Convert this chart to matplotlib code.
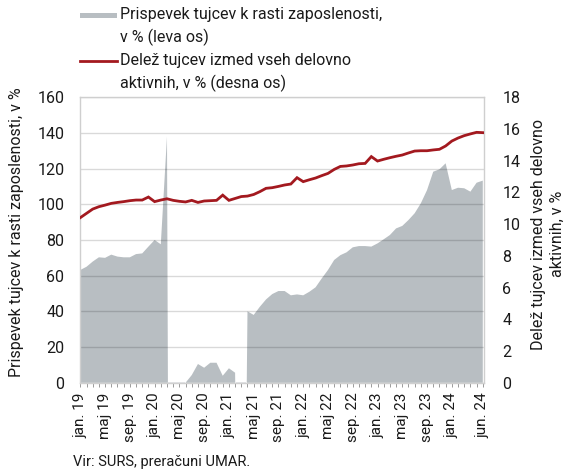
import matplotlib
matplotlib.use("Agg")
import matplotlib.pyplot as plt
from matplotlib.patches import Rectangle
from matplotlib.lines import Line2D
import numpy as np

AREA_COLOR = "#b8bec2"
LINE_COLOR = "#a3191f"
FRAME_COLOR = "#cfcfcf"
TEXT_COLOR = "#1a1a1a"

plt.rcParams.update({
    "font.family": ["Roboto", "DejaVu Sans"],
    "font.size": 11,
    "text.color": TEXT_COLOR,
    "xtick.color": TEXT_COLOR,
    "ytick.color": TEXT_COLOR,
})

# monthly, jan 2019 .. jun 2024
months = np.arange(66)

# contribution of foreigners to employment growth, % (left axis)
# (the deep negatives of the covid months fall below the axis)
contribution = [
    63.2, 65.0, 67.9, 70.3, 70.0, 71.8, 70.7, 70.3, 70.3, 72.1, 72.5, 76.3,
    80.0, 77.6, 138.0, -800.0, -600.0, 0.0, 4.3, 10.5, 8.4, 11.2, 11.2, 3.9,
    8.1, 5.6, -300.0, 40.0, 38.0, 42.6, 46.7, 49.7, 51.4, 51.4, 49.0, 49.5,
    49.0, 51.0, 53.5, 58.5, 63.2, 68.8, 71.5, 73.1, 75.9, 76.6, 76.6, 76.3,
    78.1, 80.4, 82.8, 86.5, 87.9, 91.2, 95.0, 100.6, 108.0, 118.3, 119.6, 123.0,
    108.0, 109.3, 109.0, 107.1, 112.1, 113.3,
]

# share of foreigners among persons in employment, % (right axis)
share = [
    10.41, 10.68, 10.95, 11.10, 11.20, 11.31, 11.37, 11.42, 11.48, 11.52, 11.52, 11.71,
    11.42, 11.52, 11.60, 11.50, 11.44, 11.40, 11.50, 11.37, 11.46, 11.48, 11.50, 11.83,
    11.50, 11.62, 11.74, 11.77, 11.87, 12.05, 12.26, 12.30, 12.38, 12.47, 12.53, 12.93,
    12.68, 12.80, 12.91, 13.06, 13.20, 13.45, 13.64, 13.67, 13.73, 13.81, 13.83, 14.26,
    13.98, 14.09, 14.19, 14.28, 14.36, 14.49, 14.61, 14.63, 14.63, 14.68, 14.72, 14.93,
    15.24, 15.43, 15.58, 15.69, 15.79, 15.77,
]

tick_pos = [0, 4, 8, 12, 16, 20, 24, 28, 32, 36, 40, 44, 48, 52, 56, 60, 65]
tick_labels = [
    "jan. 19", "maj 19", "sep. 19", "jan. 20", "maj 20", "sep. 20",
    "jan. 21", "maj 21", "sep. 21", "jan. 22", "maj 22", "sep. 22",
    "jan. 23", "maj 23", "sep. 23", "jan. 24", "jun. 24",
]

fig = plt.figure(figsize=(5.66, 4.70), dpi=100)
ax = fig.add_axes([0.1408, 0.1857, 0.7149, 0.6073])

ax.fill_between(months, contribution, 0, color=AREA_COLOR, linewidth=0, zorder=1)
ax.set_ylim(0, 160)
ax.set_yticks(np.arange(0, 161, 20))
ax.set_xlim(-0.1, 65.25)
ax.grid(True, axis="y", color="black", alpha=0.15, linewidth=1.0)

ax.set_xticks(tick_pos)
ax.set_xticklabels(tick_labels, rotation=90, fontsize=11)
ax.set_xticks(months, minor=True)
ax.tick_params(axis="x", which="both", length=3, width=0.7, color="#9a9a9a", pad=4)
ax.tick_params(axis="y", length=0, pad=11, labelsize=11.5)

for s in ax.spines.values():
    s.set_color(FRAME_COLOR)
    s.set_linewidth(1.0)

ax2 = ax.twinx()
ax2.plot(months, share, color=LINE_COLOR, linewidth=2.0, solid_joinstyle="miter")
ax2.set_ylim(0, 18)
ax2.set_yticks(np.arange(0, 19, 2))
ax2.tick_params(axis="y", length=0, pad=13, labelsize=11.5)
for s in ax2.spines.values():
    s.set_visible(False)

# axis titles
fig.text(0.030, 0.506, "Prispevek tujcev k rasti zaposlenosti, v %",
         rotation=90, ha="center", va="center", fontsize=11.5)
fig.text(0.968, 0.502, "Delež tujcev izmed vseh delovno\naktivnih, v %",
         rotation=90, ha="center", va="center", multialignment="center",
         fontsize=11.5, linespacing=1.25)

# legend
fig.add_artist(Rectangle((80 / 566, 1 - 17.5 / 470), 37 / 566, 5 / 470,
                         transform=fig.transFigure, color=AREA_COLOR, lw=0))
fig.add_artist(Line2D([80 / 566, 117 / 566], [1 - 61 / 470, 1 - 61 / 470],
                      transform=fig.transFigure, color=LINE_COLOR, lw=2.0))
leg_lines = [
    ("Prispevek tujcev k rasti zaposlenosti,", 15),
    ("v % (leva os)", 37),
    ("Delež tujcev izmed vseh delovno", 60),
    ("aktivnih, v % (desna os)", 83),
]
for txt, ypx in leg_lines:
    fig.text(120 / 566, 1 - ypx / 470, txt, ha="left", va="center", fontsize=11.5)

fig.text(73 / 566, 1 - 462 / 470, "Vir: SURS, preračuni UMAR.",
         ha="left", va="center", fontsize=10.5)

fig.savefig("out.png", dpi=100)
